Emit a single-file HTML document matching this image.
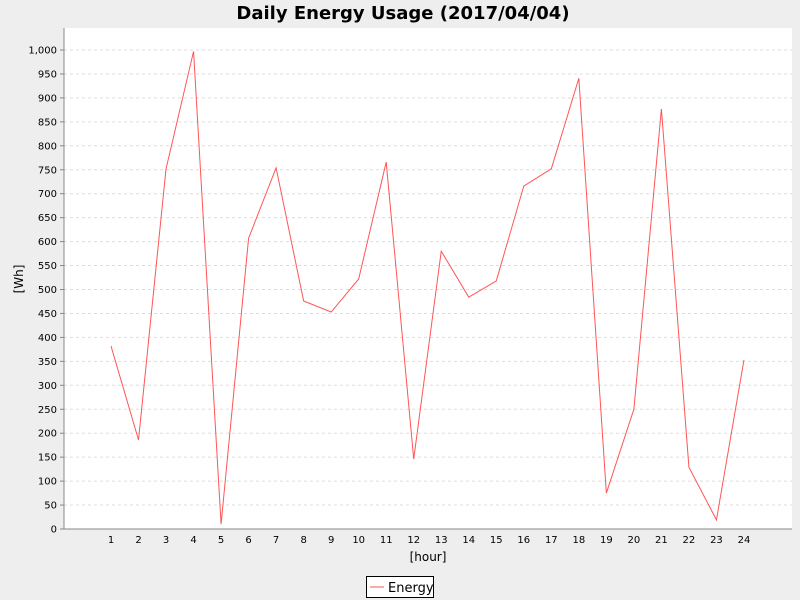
<!DOCTYPE html>
<html><head><meta charset="utf-8"><style>
body{margin:0;background:#eeeeee;}
svg{display:block;font-family:"DejaVu Sans","Liberation Sans",sans-serif;}
</style></head><body>
<svg id="chart" width="800" height="600">
<rect x="0" y="0" width="800" height="600" fill="#eeeeee"/>
<text x="403" y="19" text-anchor="middle" font-size="18" font-weight="bold" fill="#000">Daily Energy Usage (2017/04/04)</text>
<rect x="64" y="28" width="728" height="501" fill="#ffffff"/>
<g id="grid"></g>
<g id="yticks"></g>
<g id="xticks"></g>
<line x1="64" y1="28" x2="64" y2="529" stroke="#888"/>
<line x1="64" y1="529" x2="792" y2="529" stroke="#888"/>
<polyline id="line" fill="none" stroke="#ff5555" stroke-width="1"/>
<text x="23" y="279" text-anchor="middle" font-size="12" transform="rotate(-90 23 279)">[Wh]</text>
<text x="428" y="561" text-anchor="middle" font-size="12">[hour]</text>
<g>
<rect x="366.5" y="576.5" width="67" height="21" fill="#fff" stroke="#000"/>
<line x1="370" y1="587" x2="384" y2="587" stroke="#ff5555"/>
<text x="388" y="592" font-size="13">Energy</text>
</g>
</svg>
<script>
const categories=["1","2","3","4","5","6","7","8","9","10","11","12","13","14","15","16","17","18","19","20","21","22","23","24"];
const energy=[382,186,752,997,10,607,754,476,453,522,766,146,580,484,518,716,752,941,75,250,877,129,19,353];
const yTicks=[0,50,100,150,200,250,300,350,400,450,500,550,600,650,700,750,800,850,900,950,1000];
const NS="http://www.w3.org/2000/svg";
function yS(v){return 529-v*0.479;}
function xS(i){return 111+i*27.52;}
const grid=document.getElementById('grid'),yt=document.getElementById('yticks'),xt=document.getElementById('xticks');
yTicks.forEach(v=>{
 const y=yS(v);
 if(v>0){const l=document.createElementNS(NS,'line');
 l.setAttribute('x1',64);l.setAttribute('x2',792);l.setAttribute('y1',y);l.setAttribute('y2',y);
 l.setAttribute('stroke','#dddddd');l.setAttribute('stroke-dasharray','3,3');
 
 
 grid.appendChild(l);}
 const tk=document.createElementNS(NS,'line');
 tk.setAttribute('x1',60);tk.setAttribute('x2',64);tk.setAttribute('y1',y);tk.setAttribute('y2',y);tk.setAttribute('stroke','#888');
 
 
 yt.appendChild(tk);
 const t=document.createElementNS(NS,'text');
 t.setAttribute('x',57);t.setAttribute('y',y+3.5);t.setAttribute('text-anchor','end');t.setAttribute('font-size','10');
 t.textContent=v.toLocaleString('en-US');
 
 
 yt.appendChild(t);
});
categories.forEach((c,i)=>{
 const t=document.createElementNS(NS,'text');
 t.setAttribute('x',xS(i));t.setAttribute('y',543);t.setAttribute('text-anchor','middle');t.setAttribute('font-size','10');
 t.textContent=c;
 
 
 xt.appendChild(t);
});
document.getElementById('line').setAttribute('points',energy.map((v,i)=>xS(i)+','+yS(v)).join(' '));
</script>
</body></html>
